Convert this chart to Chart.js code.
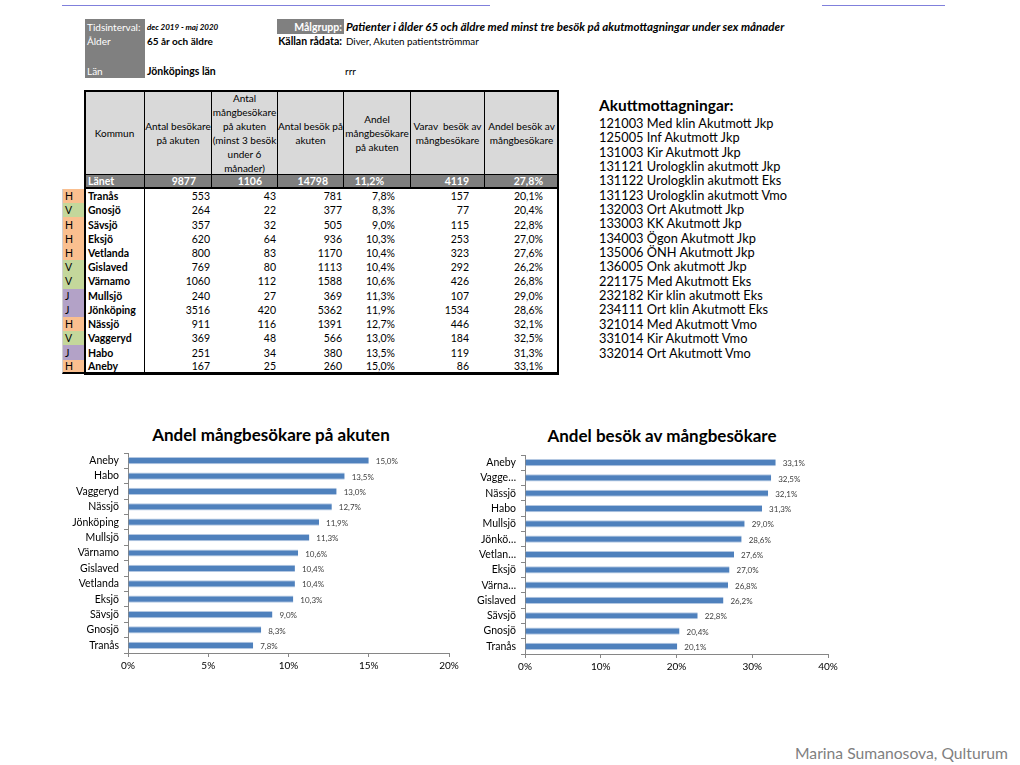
<!DOCTYPE html>
<html lang="sv">
<head>
<meta charset="utf-8">
<title>Mångbesökare på akuten</title>
<script src="https://cdn.jsdelivr.net/npm/chart.js@4.4.0/dist/chart.umd.min.js"></script>
<style>
  body { margin: 0; width: 1020px; height: 765px; background: #fff; font-family: Lato, "Open Sans", sans-serif; color: #000; position: relative; overflow: hidden; }
  .abs { position: absolute; white-space: nowrap; line-height: 14px; }
  .linje { position: absolute; height: 1px; background: #8080dc; top: 5px; }
  .gra { position: absolute; background: #808080; }
  .vit { color: #fff; font-size: 10px; }
  .fet { font-weight: bold; font-size: 10.5px; }
  #tabell { position: absolute; left: 62px; top: 91px; display: grid;
    grid-template-columns: 23px 60px 67px 66px 66px 67px 74px 74px;
    grid-template-rows: 84px 14px repeat(13, 14.23px); font-size: 10.5px; }
  #tabell div { box-sizing: border-box; white-space: nowrap; overflow: hidden; display: flex; align-items: center; }
  #tabell .rubrik { background: #d9d9d9; border-right: 1px solid #000; border-bottom: 1px solid #000; justify-content: center; text-align: center; line-height: 14px; font-size: 10px; }
  #tabell .lanet { background: #7f7f7f; color: #fff; font-weight: bold; border-right: 1px solid #000; border-bottom: 2px solid #000; justify-content: flex-end; padding-right: 15px; line-height: 12px; }
  #tabell .kod { padding-left: 2px; border-left: 1px solid #d0d0d0; }
  #tabell .namn { font-weight: bold; border-right: 1px solid #000; padding-left: 3px; }
  #tabell .num { justify-content: flex-end; padding-right: 2px; }
  #tabell .pct { justify-content: flex-end; padding-right: 16px; }
  #tabell .botten { border-bottom: 2px solid #000; }
  #ram { position: absolute; left: 84px; top: 90px; width: 475px; height: 285px; border: 2px solid #000; box-sizing: border-box; }
  #lista { position: absolute; left: 599px; top: 95px; font-size: 12.8px; line-height: 14.35px; white-space: nowrap; }
  #lista b { font-size: 15.5px; display: block; line-height: 20px; margin-bottom: 1px; }
  .titel { position: absolute; font-size: 17px; font-weight: bold; line-height: 20px; text-align: center; white-space: nowrap; }
  canvas { position: absolute; }
</style>
</head>
<body>

<div class="linje" style="left:62px; width:428px;"></div>
<div class="linje" style="left:822px; width:123px;"></div>

<div class="gra" style="left:85px; top:19px; width:60px; height:59px;"></div>
<div class="abs vit" style="left:87px; top:20px;">Tidsinterval:</div>
<div class="abs vit" style="left:87px; top:34px;">Ålder</div>
<div class="abs vit" style="left:87px; top:64px;">Län</div>
<div class="abs" style="left:147px; top:20px; font-size:8px; font-weight:bold; font-style:italic;">dec 2019 - maj 2020</div>
<div class="abs" style="left:147px; top:34px; font-size:10px; font-weight:bold;">65 år och äldre</div>
<div class="abs fet" style="left:147px; top:64px;">Jönköpings län</div>

<div class="gra" style="left:277px; top:19px; width:67px; height:15px;"></div>
<div class="abs" style="left:277px; top:20px; width:65px; text-align:right; color:#fff; font-weight:bold; font-size:10.5px;">Målgrupp:</div>
<div class="abs" style="left:346px; top:20px; font-size:11.5px; font-weight:bold; font-style:italic;">Patienter i ålder 65 och äldre med minst tre besök på akutmottagningar under sex månader</div>
<div class="abs fet" style="left:270px; top:34px; width:72px; text-align:right;">Källan rådata:</div>
<div class="abs" style="left:346px; top:34px; font-size:9.8px;">Diver, Akuten patientströmmar</div>
<div class="abs" style="left:345px; top:64px; font-size:10px;">rrr</div>

<div id="tabell"></div>
<div id="ram"></div>

<div id="lista"></div>

<div class="titel" style="left:121px; width:300px; top:425px;">Andel mångbesökare på akuten</div>
<div class="titel" style="left:512px; width:300px; top:426px;">Andel besök av mångbesökare</div>
<canvas id="diagram1" width="420" height="262" style="left:60px; top:420px;"></canvas>
<canvas id="diagram2" width="380" height="263" style="left:470px; top:420px;"></canvas>

<div class="abs" style="left:795px; top:744px; font-size:15.7px; line-height:18px; color:#7f7f7f;">Marina Sumanosova, Qulturum</div>

<script>
// Data ur tabellen (ordning som i tabellen)
const kommuner = ['Tranås', 'Gnosjö', 'Sävsjö', 'Eksjö', 'Vetlanda', 'Gislaved', 'Värnamo', 'Mullsjö', 'Jönköping', 'Nässjö', 'Vaggeryd', 'Habo', 'Aneby'];
const kortaNamn = ['Tranås', 'Gnosjö', 'Sävsjö', 'Eksjö', 'Vetlan…', 'Gislaved', 'Värna…', 'Mullsjö', 'Jönkö…', 'Nässjö', 'Vagge…', 'Habo', 'Aneby'];
const omrade = ['H', 'V', 'H', 'H', 'H', 'V', 'V', 'J', 'J', 'H', 'V', 'J', 'H'];
const antalBesokare = [553, 264, 357, 620, 800, 769, 1060, 240, 3516, 911, 369, 251, 167];
const antalMangbesokare = [43, 22, 32, 64, 83, 80, 112, 27, 420, 116, 48, 34, 25];
const antalBesok = [781, 377, 505, 936, 1170, 1113, 1588, 369, 5362, 1391, 566, 380, 260];
const andelMangbesokare = [7.8, 8.3, 9.0, 10.3, 10.4, 10.4, 10.6, 11.3, 11.9, 12.7, 13.0, 13.5, 15.0];
const varavBesok = [157, 77, 115, 253, 323, 292, 426, 107, 1534, 446, 184, 119, 86];
const andelBesok = [20.1, 20.4, 22.8, 27.0, 27.6, 26.2, 26.8, 29.0, 28.6, 32.1, 32.5, 31.3, 33.1];
const lanet = ['9877', '1106', '14798', '11,2%', '4119', '27,8%'];

const rubriker = [
  'Kommun',
  'Antal besökare<br>på akuten',
  'Antal<br>mångbesökare<br>på akuten<br>(minst 3 besök<br>under 6<br>månader)',
  'Antal besök på<br>akuten',
  'Andel<br>mångbesökare<br>på akuten',
  'Varav&nbsp; besök av<br>mångbesökare',
  'Andel besök av<br>mångbesökare'
];

const akutmottagningar = [
  '121003 Med klin Akutmott Jkp', '125005 Inf Akutmott Jkp', '131003 Kir Akutmott Jkp',
  '131121 Urologklin akutmott Jkp', '131122 Urologklin akutmott Eks', '131123 Urologklin akutmott Vmo',
  '132003 Ort Akutmott Jkp', '133003 KK Akutmott Jkp', '134003 Ögon Akutmott Jkp',
  '135006 ÖNH Akutmott Jkp', '136005 Onk akutmott Jkp', '221175 Med Akutmott Eks',
  '232182 Kir klin akutmott Eks', '234111 Ort klin Akutmott Eks', '321014 Med Akutmott Vmo',
  '331014 Kir Akutmott Vmo', '332014 Ort Akutmott Vmo'
];

const omradeFarg = { H: '#fabf8f', V: '#c4d79b', J: '#b3a2c7' };
const procent = v => v.toFixed(1).replace('.', ',') + '%';

// Bygg tabellen som ett rutnät
let html = '<div></div>' + rubriker.map(r => `<div class="rubrik">${r}</div>`).join('');
html += '<div></div><div class="lanet" style="justify-content:flex-start;padding-left:3px">Länet</div>' +
  lanet.map((v, i) => `<div class="lanet"${i === 3 ? ' style="padding-right:26px"' : ''}>${v}</div>`).join('');
kommuner.forEach((k, i) => {
  const b = i === kommuner.length - 1 ? ' botten' : '';
  html += `<div class="kod${b}" style="background:${omradeFarg[omrade[i]]}">${omrade[i]}</div>` +
    `<div class="namn${b}">${k}</div>` +
    `<div class="num${b}">${antalBesokare[i]}</div>` +
    `<div class="num${b}">${antalMangbesokare[i]}</div>` +
    `<div class="num${b}">${antalBesok[i]}</div>` +
    `<div class="pct${b}">${procent(andelMangbesokare[i])}</div>` +
    `<div class="pct${b}">${varavBesok[i]}</div>` +
    `<div class="pct${b}">${procent(andelBesok[i])}</div>`;
});
document.getElementById('tabell').innerHTML = html;

document.getElementById('lista').innerHTML = '<b>Akuttmottagningar:</b>' + akutmottagningar.join('<br>');

// Etiketter till höger om staplarna
const etiketter = {
  id: 'etiketter',
  afterDatasetsDraw(chart) {
    const ctx = chart.ctx;
    const data = chart.data.datasets[0].data;
    ctx.save();
    ctx.font = '8px Lato';
    ctx.fillStyle = '#404040';
    ctx.textBaseline = 'middle';
    chart.getDatasetMeta(0).data.forEach((bar, i) => {
      ctx.fillText(procent(data[i]), bar.x + 7, bar.y + 1);
    });
    ctx.restore();
  }
};

function stapelDiagram(id, etikett, varden, max, steg, pad, yBredd) {
  return new Chart(document.getElementById(id), {
    type: 'bar',
    data: {
      labels: etikett,
      datasets: [{
        data: varden,
        backgroundColor: '#4f81bd',
        borderColor: '#b4c8e2',
        borderWidth: { top: 1, bottom: 1, left: 0, right: 0 },
        borderSkipped: false,
        barPercentage: 0.47,
        categoryPercentage: 1
      }]
    },
    options: {
      indexAxis: 'y',
      responsive: false,
      animation: false,
      layout: { padding: pad },
      plugins: {
        legend: { display: false },
        tooltip: { enabled: false }
      },
      scales: {
        x: {
          min: 0,
          max: max,
          ticks: { stepSize: steg, callback: v => v + '%', color: '#000', font: { family: 'Lato', size: 10 }, padding: 3 },
          grid: { drawOnChartArea: false, tickLength: 4, color: '#868686' },
          border: { color: '#868686' },
          afterFit: s => { s.height = 29; }
        },
        y: {
          ticks: { color: '#000', font: { family: 'Lato', size: 10.5 }, padding: 5, autoSkip: false },
          grid: { drawOnChartArea: false, tickLength: 4, color: '#868686', offset: true },
          border: { color: '#868686' },
          afterFit: s => { s.width = yBredd; }
        }
      }
    },
    plugins: [etiketter]
  });
}

// Diagram 1: Aneby överst, Tranås nederst
const ordning1 = kommuner.map((k, i) => i).reverse();
stapelDiagram('diagram1', ordning1.map(i => kommuner[i]), ordning1.map(i => andelMangbesokare[i]),
  20, 5, { left: 0, right: 31, top: 33, bottom: 0 }, 68);

// Diagram 2: sorterat efter andel besök, störst överst
const ordning2 = kommuner.map((k, i) => i).sort((a, b) => andelBesok[b] - andelBesok[a]);
stapelDiagram('diagram2', ordning2.map(i => kortaNamn[i]), ordning2.map(i => andelBesok[i]),
  40, 10, { left: 0, right: 22, top: 35, bottom: 0 }, 55);
</script>
</body>
</html>
